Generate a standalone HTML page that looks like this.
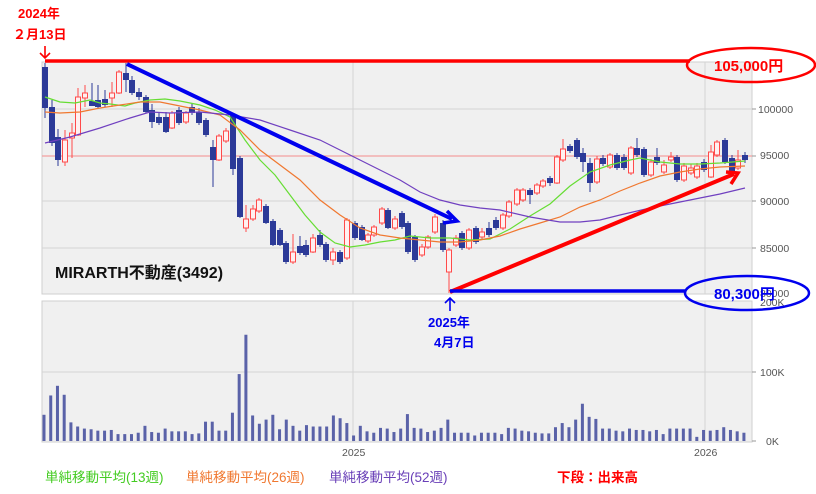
<!DOCTYPE html>
<html><head><meta charset="utf-8">
<style>
html,body{margin:0;padding:0;background:#fff;}
svg{display:block;font-family:"Liberation Sans","Noto Sans CJK JP",sans-serif;}
</style></head>
<body>
<svg id="c" width="816" height="494" viewBox="0 0 816 494" xmlns="http://www.w3.org/2000/svg">
<rect x="42" y="62" width="710" height="232" fill="#f0f0f0" stroke="#cfcfcf"/>
<rect x="42" y="301" width="710" height="141" fill="#f0f0f0" stroke="#cfcfcf"/>
<g stroke="#d4d4d4" stroke-width="1">
<line x1="42" y1="109" x2="752" y2="109"/><line x1="42" y1="201" x2="752" y2="201"/>
<line x1="42" y1="248" x2="752" y2="248"/><line x1="42" y1="372" x2="752" y2="372"/>
<line x1="353" y1="62" x2="353" y2="294"/><line x1="705" y1="62" x2="705" y2="294"/>
<line x1="353" y1="301" x2="353" y2="442"/><line x1="705" y1="301" x2="705" y2="442"/>
</g>
<line x1="42" y1="156" x2="752" y2="156" stroke="#f3a0a0" stroke-width="1.2"/>
<g fill="#555" font-size="10.5">
<text x="758" y="113">100000</text><text x="760" y="159">95000</text><text x="760" y="205">90000</text>
<text x="760" y="252">85000</text><text x="760" y="297">80000</text>
<text x="760" y="306">200K</text><text x="760" y="376">100K</text><text x="766" y="445">0K</text>
<text x="342" y="456">2025</text><text x="694" y="456">2026</text>
</g>
<g stroke="#999"><line x1="752" y1="109" x2="756" y2="109"/><line x1="752" y1="156" x2="756" y2="156"/><line x1="752" y1="201" x2="756" y2="201"/><line x1="752" y1="248" x2="756" y2="248"/><line x1="752" y1="372" x2="756" y2="372"/><line x1="752" y1="441" x2="756" y2="441"/></g>
<g id="vol" fill="#5a62a8"></g>
<g id="cand"></g>
<polyline fill="none" stroke="#66dd33" stroke-width="1.2" points="45,97 60,102 75,103 90,100 100,103 110,104 125,106 135,103 150,100 165,99 180,101 200,105 215,110 230,117 245,140 260,160 275,175 290,195 305,215 320,232 335,243 350,247 365,245 380,242 395,240 410,236 430,238 450,238 470,240 490,239 510,229 530,216 550,204 570,186 590,172 610,165 630,160 640,158 660,162 680,164 700,164 720,163 745,161"/>
<polyline fill="none" stroke="#f07830" stroke-width="1.2" points="45,112 60,113 80,112 100,108 120,105 140,102 160,102 180,106 200,110 220,115 240,130 260,150 280,165 300,180 320,200 340,215 360,228 380,235 400,238 420,240 440,242 460,242 480,240 500,236 520,229 540,223 560,217 580,207 600,200 620,191 640,183 660,176 680,172 700,169 720,167 745,166"/>
<polyline fill="none" stroke="#7040c0" stroke-width="1.2" points="45,143 70,137 100,128 130,118 150,112 170,113 200,112 230,115 260,120 290,130 320,140 340,150 360,160 380,170 400,180 420,192 440,200 460,205 480,208 500,210 530,217 560,222 580,222 600,220 620,215 650,208 680,202 700,198 720,194 745,188"/>
<line x1="45" y1="61" x2="690" y2="61" stroke="#ff0000" stroke-width="3.5"/>
<line x1="127" y1="64" x2="452" y2="219" stroke="#0000ee" stroke-width="4"/>
<polyline points="447,211 457,221 443,223" fill="none" stroke="#0000ee" stroke-width="3.5"/>
<line x1="450" y1="292" x2="734" y2="174" stroke="#ff0000" stroke-width="4"/>
<polyline points="726,172 738,173 731,184" fill="none" stroke="#ff0000" stroke-width="3.5"/>
<line x1="450" y1="291" x2="686" y2="291" stroke="#0000ee" stroke-width="3.5"/>
<ellipse cx="751" cy="65" rx="64" ry="17" fill="none" stroke="#ff0000" stroke-width="2.5"/>
<ellipse cx="747" cy="293" rx="62" ry="17" fill="none" stroke="#0000ee" stroke-width="2.5"/>
<text x="714" y="71" fill="#ff0000" font-size="15" font-weight="bold">105,000円</text>
<text x="714" y="299" fill="#0000ee" font-size="15" font-weight="bold">80,300円</text>
<g font-weight="bold" font-size="13" fill="#ff0000">
<text x="18" y="18">2024年</text><text x="13" y="39">２月13日</text>
</g>
<path d="M45,46 V58 M40,53 L45,58 L50,53" stroke="#ff0000" stroke-width="1.6" fill="none"/>
<path d="M450,311 V298 M445,303 L450,298 L455,303" stroke="#0000ee" stroke-width="1.6" fill="none"/>
<g font-weight="bold" font-size="13" fill="#0000ee">
<text x="428" y="327">2025年</text><text x="434" y="347">4月7日</text>
</g>
<text x="55" y="278" font-size="16" font-weight="bold" fill="#111">MIRARTH不動産(3492)</text>
<g font-size="13.5">
<text x="45" y="482" fill="#44cc22">単純移動平均(13週)</text>
<text x="186" y="482" fill="#f07830">単純移動平均(26週)</text>
<text x="329" y="482" fill="#6a40b8">単純移動平均(52週)</text>
<text x="557" y="482" fill="#ff0000" font-weight="bold">下段：出来高</text>
</g>
</svg>
<script>
var NS="http://www.w3.org/2000/svg";
function el(p,t,a){var e=document.createElementNS(NS,t);for(var k in a)e.setAttribute(k,a[k]);p.appendChild(e);return e;}
var C=[
[45,67,108,63,118,0],[52,107,143,100,146,0],[58,137,160,129,166,0],[65,140,162,130,166,1],[72,133,138,123,158,1],
[78,97,135,88,136,1],[85,93,98,85,107,1],[92,101,106,83,106,0],[98,100,107,85,108,0],[105,99,105,90,107,0],
[112,93,98,82,107,1],[119,72,93,70,94,1],[126,73,80,63,92,0],[132,80,93,76,95,0],[139,92,97,88,100,0],
[146,97,112,95,113,0],[152,110,122,104,128,0],[159,117,123,112,125,0],[166,117,132,112,133,0],[172,113,128,111,129,1],
[179,110,123,107,125,0],[186,113,122,111,124,1],[192,107,113,104,115,0],[199,112,123,108,125,0],[206,120,135,118,137,0],
[213,147,160,140,187,0],[219,136,160,134,161,1],[226,131,141,128,143,1],[233,115,169,113,175,0],[240,158,217,156,218,0],
[246,219,228,205,232,1],[253,209,219,205,221,1],[259,200,211,198,213,1],[266,206,223,204,224,0],[273,221,245,219,246,0],
[280,230,245,228,246,0],[286,243,262,241,264,0],[293,252,262,234,264,1],[300,246,253,236,255,0],[306,245,255,240,257,0],
[313,238,252,234,253,1],[320,235,245,230,247,0],[326,244,260,242,262,0],[333,252,260,248,265,1],[340,252,262,250,264,0],
[347,220,258,218,260,1],[355,223,238,221,240,0],[362,227,240,225,241,0],[368,235,241,233,243,1],[374,227,235,225,237,1],
[382,209,223,207,225,1],[388,210,228,208,229,0],[395,219,228,216,230,1],[402,213,227,211,229,0],[408,223,252,221,254,0],
[415,237,260,235,262,0],[422,247,255,244,257,1],[428,237,247,235,249,1],[435,217,232,214,234,1],[443,223,250,220,252,0],
[449,250,272,248,293,1],[456,238,245,235,247,1],[462,233,248,231,250,0],[469,230,248,228,250,1],[476,228,242,226,244,0],
[482,232,237,228,239,1],[489,228,235,222,237,0],[496,220,228,217,230,0],[503,215,228,213,230,1],[509,202,216,200,218,1],
[517,190,204,188,206,1],[523,190,200,188,202,1],[530,190,195,188,204,0],[537,185,193,183,195,1],[543,181,186,179,188,1],
[550,178,183,176,186,0],[557,157,183,155,184,1],[563,149,160,139,162,1],[570,146,151,144,153,0],[577,140,157,138,159,0],
[583,153,162,148,172,0],[590,163,183,158,192,0],[597,159,182,156,184,1],[603,158,164,155,166,0],[610,155,167,153,169,1],
[617,155,168,153,170,0],[624,157,168,154,170,0],[631,148,173,146,175,1],[637,148,155,138,157,0],[644,149,175,147,177,0],
[651,162,175,159,177,1],[657,157,163,148,165,0],[664,165,172,160,174,1],[671,157,160,152,162,1],[677,157,180,155,182,0],
[684,166,180,163,182,1],[691,168,173,164,175,1],[697,166,177,163,179,1],[704,162,170,159,172,0],[711,152,177,145,178,1],
[717,142,155,140,157,1],[725,140,162,138,164,0],[732,158,171,155,173,0],[738,160,168,150,170,1],[745,155,160,152,163,0]];
var g=document.getElementById("cand");
C.forEach(function(c){var col=c[5]?"#ff4a4a":"#2c3a98";
el(g,"line",{x1:c[0],x2:c[0],y1:c[3],y2:c[4],stroke:col,"stroke-width":1});
if(c[5])el(g,"rect",{x:c[0]-2.5,y:c[1],width:5,height:Math.max(1,c[2]-c[1]),fill:"#fff0f0",stroke:col,"stroke-width":1});
else el(g,"rect",{x:c[0]-3,y:c[1],width:6,height:Math.max(1,c[2]-c[1]),fill:col});});
var V=[38,66,80,67,27,21,18,17,15,15,16,10,10,10,12,22,13,12,18,14,14,14,10,11,28,28,15,15,41,97,154,37,25,31,38,17,31,22,15,23,21,21,21,37,33,26,8,22,14,12,19,18,13,18,39,19,18,13,15,19,31,12,12,12,8,12,12,12,10,19,18,15,14,12,11,11,20,26,20,31,54,35,32,18,18,15,14,18,16,16,14,16,10,18,18,18,18,6,16,15,16,20,16,14,12];
var vg=document.getElementById("vol");
V.forEach(function(v,i){var x=44+i*6.73,h=v*0.69;el(vg,"rect",{x:x-1.5,y:441-h,width:3,height:h});});
</script>
</body></html>
